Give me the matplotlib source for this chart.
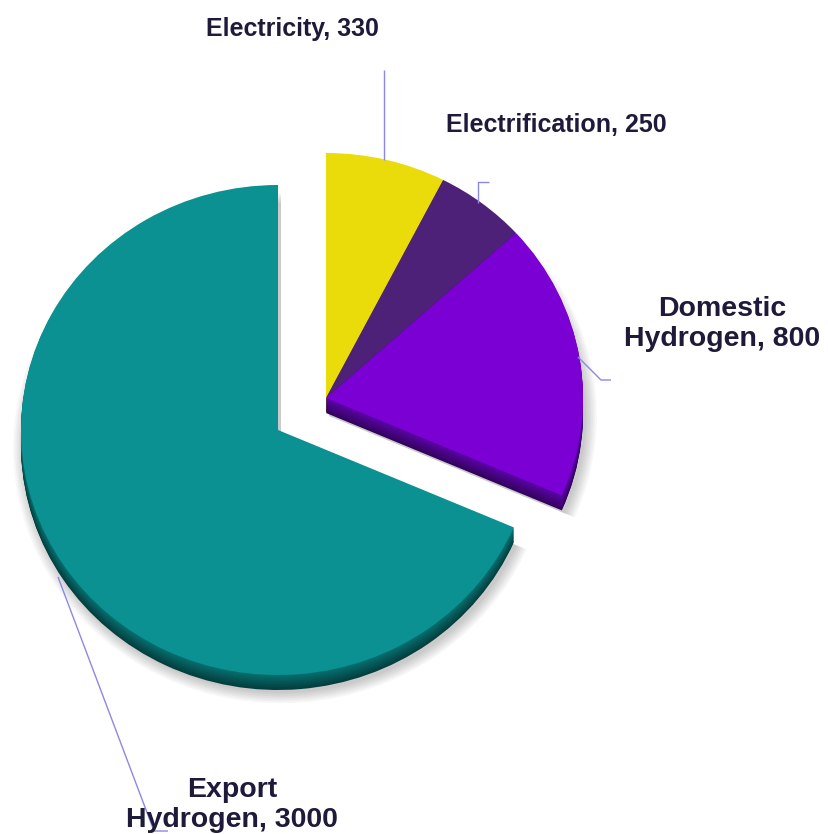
import matplotlib
matplotlib.use("Agg")
import matplotlib.pyplot as plt
import matplotlib.colors as mcolors
from matplotlib.transforms import Affine2D
import numpy as np

# ---- data -------------------------------------------------------------
categories = ["Electricity", "Electrification", "Domestic\nHydrogen", "Export\nHydrogen"]
values = [330, 250, 800, 3000]
face_colors = ["#E9DC0A", "#4D2177", "#7A00D3", "#0B9191"]
side_colors = ["#A89E05", "#33134F", "#5C04A8", "#077070"]
label_text = [f"{c}, {v}" for c, v in zip(categories, values)]

# ---- canvas: one data unit == one pixel -------------------------------
W, H = 829, 834
fig = plt.figure(figsize=(W / 100, H / 100), dpi=100)
ax = fig.add_axes([0, 0, 1, 1])


def py(y):
    """convert a top-down pixel row to the axes' bottom-up coordinate"""
    return H - y


RX, RY = 257, 245
DEPTH = 15
main_center = (278, py(430))      # the large slice
group_center = (326, py(398))     # the three pulled-out slices
main_idx = [3]
group_idx = [0, 1, 2]


def pie_layer(center, show, cols, z, dx=0.0, dy=0.0, scale=1.0, alpha=1.0):
    wedges, _ = ax.pie(values, colors=cols, startangle=90, counterclock=False,
                       radius=1, center=(0, 0),
                       wedgeprops=dict(linewidth=0, antialiased=True))
    tr = (Affine2D().scale(RX * scale, RY * scale)
          .translate(center[0] + dx, center[1] + dy) + ax.transData)
    for i, w in enumerate(wedges):
        w.set_transform(tr)
        w.set_visible(i in show)
        w.set_zorder(z)
        w.set_alpha(alpha)
    return wedges


# soft drop shadows
for center, idx in ((main_center, main_idx), (group_center, group_idx)):
    for k in range(7):
        pie_layer(center, idx, ["#000000"] * 4, z=1,
                  dx=3, dy=-DEPTH - 3, scale=1.0 + 0.007 * k, alpha=0.03)

# extruded sides, darker toward the bottom
for center, idx in ((main_center, main_idx), (group_center, group_idx)):
    for d in range(DEPTH, 0, -1):
        t = d / DEPTH
        cols = [tuple(np.array(mcolors.to_rgb(s)) * (1 - 0.45 * t))
                for s in side_colors]
        pie_layer(center, idx, cols, z=2, dy=-d)

# top faces
for center, idx in ((main_center, main_idx), (group_center, group_idx)):
    pie_layer(center, idx, face_colors, z=3)

ax.set_aspect("auto")
ax.set_xlim(0, W)
ax.set_ylim(0, H)
ax.axis("off")

# ---- leader lines -----------------------------------------------------
line_color = "#8C88E6"
leaders = [
    [(384, 70), (384, 160)],
    [(478, 203), (478, 182), (489, 182)],
    [(578, 357), (601, 380), (611, 380)],
    [(58, 577), (154, 831), (168, 831)],
]
for pts in leaders:
    xs = [p[0] for p in pts]
    ys = [py(p[1]) for p in pts]
    ax.plot(xs, ys, color=line_color, lw=1.0, zorder=4, solid_capstyle="butt")

# ---- labels (y is the baseline of the last line) ----------------------
text_color = "#1D1A3A"
label_pos = [(292, 36, 18), (556, 132, 18), (722, 346, 20.5), (232, 827, 20.5)]
for txt, (x, y, fs) in zip(label_text, label_pos):
    ax.text(x, py(y), txt, ha="center", va="baseline", multialignment="center",
            fontsize=fs, fontweight="bold", color=text_color,
            family=["Liberation Sans", "DejaVu Sans"], linespacing=1.2, zorder=5)

fig.savefig("out.png", dpi=100)
